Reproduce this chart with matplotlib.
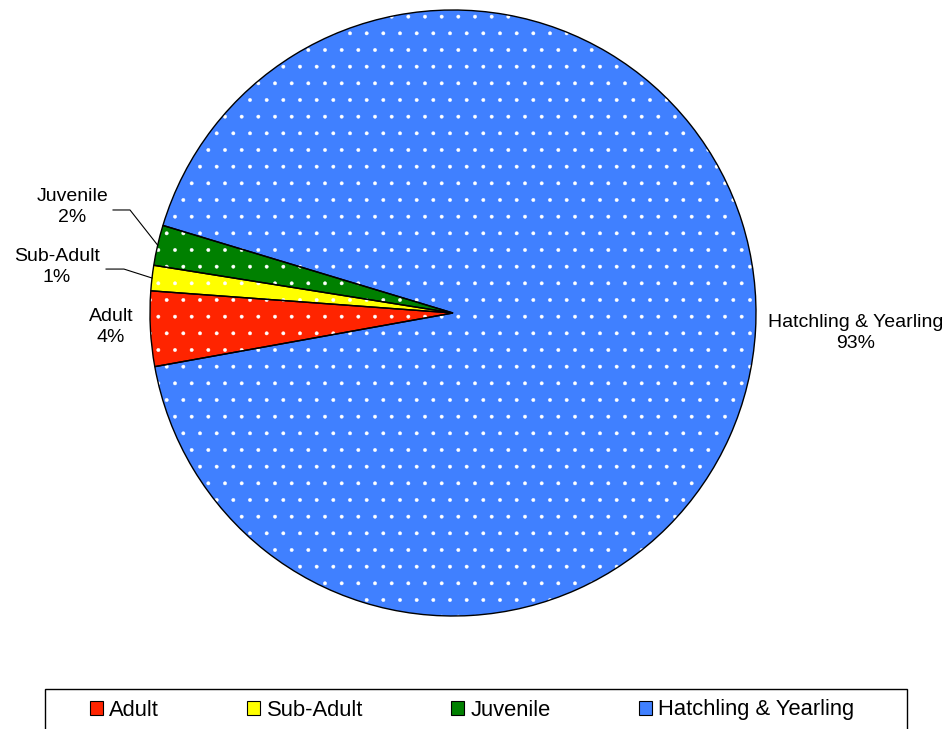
import numpy as np
import matplotlib
matplotlib.use("Agg")
import matplotlib.pyplot as plt
import matplotlib.patches as mpatches

plt.rcParams['font.family'] = ['Liberation Sans', 'DejaVu Sans']
plt.rcParams['hatch.linewidth'] = 0.3

# share of each age class (%)
categories = ["Adult", "Sub-Adult", "Juvenile", "Hatchling & Yearling"]
shares = [4.0, 1.35, 2.15, 92.5]
colors = ["#FF2400", "#FFFF00", "#008000", "#4080FF"]

fig = plt.figure(figsize=(9.49, 7.29), dpi=100)
ax = fig.add_axes([150/949, 113/729, 606/949, 606/729])

start = 190.2
# coloured faces with the white dot pattern (hatch colour follows edgecolor)
wedges, _ = ax.pie(shares, colors=colors, startangle=start, counterclock=False,
                   hatch='.', wedgeprops=dict(edgecolor='white', linewidth=0))
# black outlines drawn on top
ax.pie(shares, colors=['none'] * len(shares), startangle=start, counterclock=False,
       wedgeprops=dict(edgecolor='black', linewidth=1.0, facecolor='none'))

# label placement, plus elbow of the leader line (x, y, x_end) where one is drawn
label_pos = [(-1.129, -0.046), (-1.307, 0.152), (-1.257, 0.350), (1.330, -0.066)]
elbows = [None, (-1.086, 0.145, -1.145), (-1.066, 0.340, -1.122), None]
pct_text = ["4%", "1%", "2%", "93%"]
for w, name, pct, (tx, ty), elb in zip(wedges, categories, pct_text, label_pos, elbows):
    ax.text(tx, ty, f"{name}\n{pct}", ha='center', va='center',
            fontsize=14, linespacing=1.3)
    if elb is not None:
        mid = np.deg2rad((w.theta1 + w.theta2) / 2)
        ax.plot([np.cos(mid), elb[0], elb[2]], [np.sin(mid), elb[1], elb[1]],
                color='black', lw=0.8, clip_on=False)

ax.set_xlim(-1, 1)
ax.set_ylim(-1, 1)
ax.set_aspect('equal')
ax.axis('off')

handles = [mpatches.Patch(facecolor=c, edgecolor='black', linewidth=0.8) for c in colors]
fig.legend(handles, categories, ncol=4, loc='center',
           bbox_to_anchor=(472/949, 1 - 710/729), frameon=False, fontsize=15.8,
           handlelength=0.6, handleheight=0.6, handletextpad=0.3,
           columnspacing=4.0, borderpad=0)
top = 1 - 689/729
fig.add_artist(mpatches.Rectangle((45/949, -0.02), 862/949, top + 0.02,
                                  transform=fig.transFigure, fill=False,
                                  edgecolor='black', linewidth=1))

fig.savefig("out.png", dpi=100)
